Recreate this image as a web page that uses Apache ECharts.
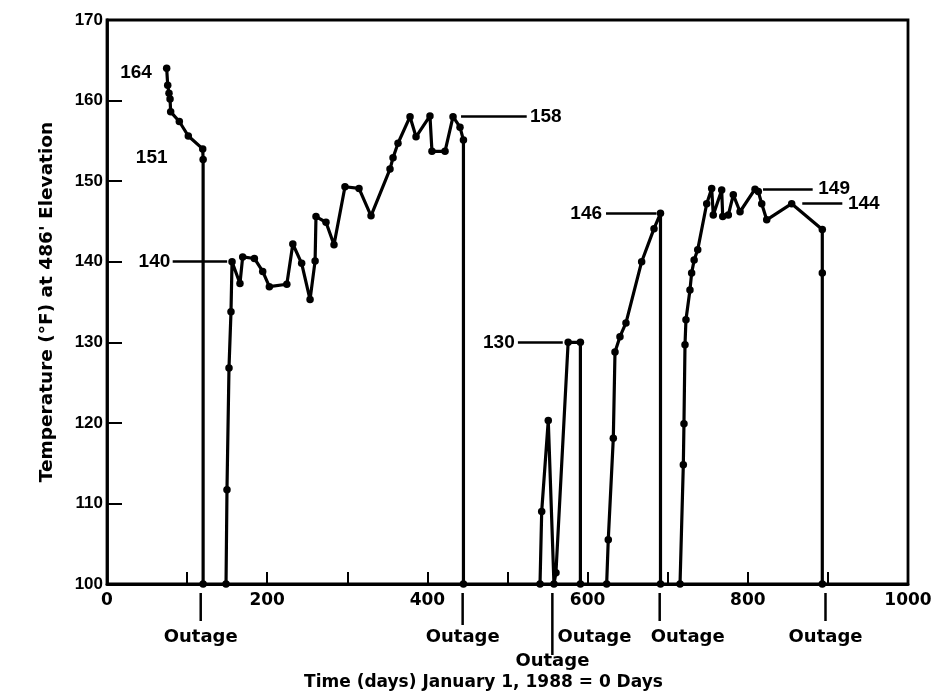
<!DOCTYPE html>
<html>
<head>
<meta charset="utf-8">
<script src="https://cdn.jsdelivr.net/npm/echarts/dist/echarts.min.js"></script>
<style>
  html, body { margin: 0; padding: 0; background: #ffffff; }
  #chart { width: 931px; height: 700px; }
</style>
</head>
<body>
<div id="chart"></div>
<script>
// Temperature at 486' elevation, days since January 1, 1988.
// Each operating run starts and ends at the 100 °F baseline (outage).
const run1Days  = [74.5, 75.8, 77.4, 78.7, 79.5, 90.3, 101.5, 119.5, 120, 120];
const run1Temps = [164, 161.9, 160.9, 160.2, 158.6, 157.4, 155.6, 154.0, 152.7, 100];

const run2Days  = [148.6, 149.8, 152.3, 154.8, 156.1, 166, 169.4, 184, 194.4, 202.7, 224.5, 232, 243, 253.5, 259.8, 260.9, 273.4, 283.4, 297.1, 314.6, 329.6, 353.3, 357.1, 363.3, 378.3, 385.8, 403.2, 405.7, 422, 432, 440.7, 445, 445];
const run2Temps = [100, 111.7, 126.8, 133.8, 140, 137.3, 140.6, 140.4, 138.8, 136.9, 137.2, 142.2, 139.8, 135.3, 140.1, 145.6, 144.9, 142.1, 149.3, 149.1, 145.7, 151.5, 152.9, 154.7, 158.0, 155.5, 158.1, 153.7, 153.7, 158, 156.7, 155.1, 100];

const run3Days  = [540.6, 542.7, 550.9, 558, 560.5, 575.7, 591, 591];
const run3Temps = [100, 109, 120.3, 100, 101.4, 130, 130, 100];

const run4Days  = [623.8, 625.8, 632.1, 634.2, 640.4, 647.9, 667.5, 682.9, 691, 691];
const run4Temps = [100, 105.5, 118.1, 128.8, 130.7, 132.4, 140, 144.1, 146, 100];

const run5Days  = [715.4, 719.5, 720.3, 721.6, 722.8, 727.8, 729.9, 733, 737.5, 748.7, 754.9, 756.9, 767.4, 768.7, 775.7, 781.9, 790.3, 809, 813.1, 817.4, 823.6, 854.8, 893, 893, 893];
const run5Temps = [100, 114.8, 119.9, 129.7, 132.8, 136.5, 138.6, 140.2, 141.5, 147.2, 149.1, 145.8, 148.9, 145.6, 145.8, 148.3, 146.2, 149, 148.7, 147.2, 145.2, 147.2, 144, 138.6, 100];

// Value callouts
const calloutText  = ['164', '151', '140', '158', '130', '146', '149', '144'];
const calloutDays  = [56, 36, 79, 528, 509, 618, 888, 925];
const calloutTemps = [163.5, 152.9, 140, 158, 130, 146, 149, 147.2];

// Leader lines running from callout text to its point
const leaderStart = [82, 442, 513, 623, 819, 868];
const leaderEnd   = [150, 524, 569, 686, 881, 918];
const leaderTemps = [140, 158, 130, 146, 149, 147.2];

// Outages (days) marked under the time axis
const outageDays  = [117, 444, 556, 591, 690, 897];
const outageLabel = 'Outage';

// Axis ticks
const xTickLabels = [0, 200, 400, 600, 800, 1000];
const yMin = 100, yMax = 170, yStep = 10;

const FONT = "'Liberation Sans', Arial, Helvetica, sans-serif";
const WIDE = "'DejaVu Sans', Verdana, sans-serif";
const INK = '#000000';

const chart = echarts.init(document.getElementById('chart'), null, { renderer: 'canvas' });

const runs = [[run1Days, run1Temps], [run2Days, run2Temps], [run3Days, run3Temps], [run4Days, run4Temps], [run5Days, run5Temps]];

const runSeries = runs.map(([d, t], k) => ({
  name: 'run' + (k + 1),
  type: 'line',
  data: d.map((x, i) => [x, t[i]]),
  symbol: 'circle',
  symbolSize: 7.5,
  showAllSymbol: true,
  lineStyle: { color: INK, width: 3.2 },
  itemStyle: { color: INK },
  z: 3,
  animation: false
}));

const leaderSeries = {
  type: 'lines',
  coordinateSystem: 'cartesian2d',
  polyline: false,
  data: leaderStart.map((s, i) => ({ coords: [[s, leaderTemps[i]], [leaderEnd[i], leaderTemps[i]]] })),
  lineStyle: { color: INK, width: 2.5, opacity: 1 },
  silent: true,
  z: 2,
  animation: false
};

// labels placed on the right side of the anchor for these callouts
const rightSide = { '151': true, '158': true, '149': true, '144': true };

const calloutSeries = {
  type: 'scatter',
  symbolSize: 0,
  itemStyle: { color: INK, opacity: 1 },
  silent: true,
  data: calloutText.map((txt, i) => ({
    value: [calloutDays[i], calloutTemps[i]],
    label: {
      show: true,
      formatter: txt,
      position: rightSide[txt] ? 'right' : 'left',
      distance: 0,
      color: INK,
      opacity: 1,
      fontFamily: FONT,
      fontWeight: 'bold',
      fontSize: 19
    }
  })),
  z: 4,
  animation: false
};

chart.setOption({
  backgroundColor: '#ffffff',
  animation: false,
  grid: {
    left: 107, right: 23, top: 20, bottom: 116,
    containLabel: false,
    outerBoundsMode: 'none',
    show: true, borderColor: INK, borderWidth: 2.8, backgroundColor: 'transparent'
  },
  xAxis: {
    type: 'value',
    min: 0, max: 1000, interval: 100,
    axisLine: { show: true, lineStyle: { color: INK, width: 2.8 } },
    axisTick: { show: true, inside: true, length: 12, lineStyle: { color: INK, width: 2 } },
    splitLine: { show: false },
    axisLabel: {
      color: INK, fontFamily: WIDE, fontWeight: 'bold', fontSize: 17, margin: 8,
      formatter: v => (xTickLabels.indexOf(v) >= 0 ? String(v) : '')
    }
  },
  yAxis: {
    type: 'value',
    min: yMin, max: yMax, interval: yStep,
    axisLine: { show: true, lineStyle: { color: INK, width: 2.8 } },
    axisTick: { show: true, inside: true, length: 15, lineStyle: { color: INK, width: 2 } },
    splitLine: { show: false },
    axisLabel: { color: INK, fontFamily: FONT, fontWeight: 'bold', fontSize: 17, margin: 4 },
    name: "Temperature (°F) at 486' Elevation",
    nameLocation: 'middle',
    nameGap: 50,
    nameTextStyle: { color: INK, fontFamily: WIDE, fontWeight: 'bold', fontSize: 18.5 }
  },
  series: [...runSeries, leaderSeries, calloutSeries]
});

// Outage markers and labels under the time axis, placed through the x scale
const axisY = chart.convertToPixel({ yAxisIndex: 0 }, yMin);
const px = d => chart.convertToPixel({ xAxisIndex: 0 }, d);
const barLen   = [28, 32, 62, 0, 28, 28];
const labelDx  = [0, 0, 0, 14, 28, 0];
const labelRow = [0, 0, 1, 0, 0, 0];
const graphics = [];
outageDays.forEach((d, i) => {
  const x = px(d);
  if (barLen[i] > 0) {
    graphics.push({
      type: 'line', silent: true,
      shape: { x1: x, y1: axisY + 9, x2: x, y2: axisY + 9 + barLen[i] },
      style: { stroke: INK, lineWidth: 2.5 }
    });
  }
  graphics.push({
    type: 'text', silent: true,
    x: x + labelDx[i], y: axisY + (labelRow[i] ? 77 : 53),
    style: {
      text: outageLabel, fill: INK, font: 'bold 18px ' + WIDE,
      textAlign: 'center', textVerticalAlign: 'middle'
    }
  });
});
graphics.push({
  type: 'text', silent: true,
  x: px(470), y: axisY + 99,
  style: {
    text: 'Time (days) January 1, 1988 = 0 Days', fill: INK, font: 'bold 17px ' + WIDE,
    textAlign: 'center', textVerticalAlign: 'middle'
  }
});
chart.setOption({ graphic: graphics });
</script>
</body>
</html>
